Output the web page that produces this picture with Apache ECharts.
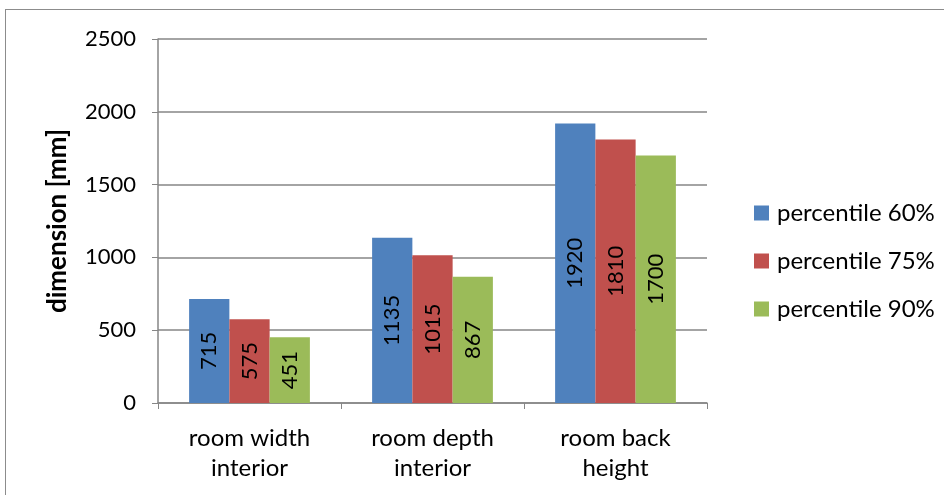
<!DOCTYPE html>
<html>
<head>
<meta charset="utf-8">
<script src="https://cdn.jsdelivr.net/npm/echarts@6/dist/echarts.min.js"></script>
<style>
  html, body { margin: 0; padding: 0; background: #fff; }
  #frame { position: absolute; left: 5px; top: 9px; width: 960px; height: 500px; border: 1.5px solid #8c8c8c; box-sizing: border-box; }
  #chart { position: absolute; left: 0; top: 0; width: 944px; height: 495px; }
</style>
</head>
<body>
<div id="frame"></div>
<div id="chart"></div>
<script>
const categories = ['room width\ninterior', 'room depth\ninterior', 'room back\nheight'];
const seriesNames = ['percentile 60%', 'percentile 75%', 'percentile 90%'];
const p60 = [715, 1135, 1920];
const p75 = [575, 1015, 1810];
const p90 = [451, 867, 1700];
const colors = ['#4f81bd', '#c0504d', '#9bbb59'];

const font = 'Lato, "Open Sans", sans-serif';
const chart = echarts.init(document.getElementById('chart'), null, { renderer: 'canvas' });

const makeSeries = (name, data, color) => ({
  name: name,
  type: 'bar',
  data: data,
  barGap: '0%',
  barCategoryGap: '34%',
  itemStyle: { color: color },
  label: {
    show: true,
    position: 'inside',
    rotate: 90,
    color: '#000',
    fontFamily: font,
    fontSize: 22
  }
});

chart.setOption({
  animation: false,
  textStyle: { fontFamily: font },
  grid: { left: 158, right: 237, top: 39, bottom: 92, containLabel: false },
  legend: {
    orient: 'vertical',
    left: 749,
    top: 196,
    itemGap: 24,
    itemWidth: 15,
    itemHeight: 15,
    icon: 'rect',
    textStyle: { fontFamily: font, fontSize: 24, lineHeight: 24, color: '#000', padding: [0, 0, 0, 3] },
    data: seriesNames
  },
  xAxis: {
    type: 'category',
    data: categories,
    axisLine: { lineStyle: { color: '#868686', width: 1.5 } },
    axisTick: { show: true, length: 6, alignWithLabel: false, lineStyle: { color: '#868686' } },
    axisLabel: { color: '#000', fontSize: 24, fontFamily: font, lineHeight: 30, margin: 20 }
  },
  yAxis: {
    type: 'value',
    min: 0,
    max: 2500,
    interval: 500,
    name: 'dimension [mm]',
    nameLocation: 'middle',
    nameGap: 87,
    nameRotate: 90,
    nameTextStyle: { fontWeight: 'bold', fontSize: 26, color: '#000', fontFamily: font },
    axisLine: { show: true, lineStyle: { color: '#868686', width: 1.5 } },
    axisTick: { show: true, length: 6, lineStyle: { color: '#868686' } },
    axisLabel: { color: '#000', fontSize: 22, fontFamily: font, margin: 22, formatter: (v) => String(v) },
    splitLine: { lineStyle: { color: '#868686', width: 1.5 } }
  },
  series: [
    makeSeries(seriesNames[0], p60, colors[0]),
    makeSeries(seriesNames[1], p75, colors[1]),
    makeSeries(seriesNames[2], p90, colors[2])
  ]
});
</script>
</body>
</html>
